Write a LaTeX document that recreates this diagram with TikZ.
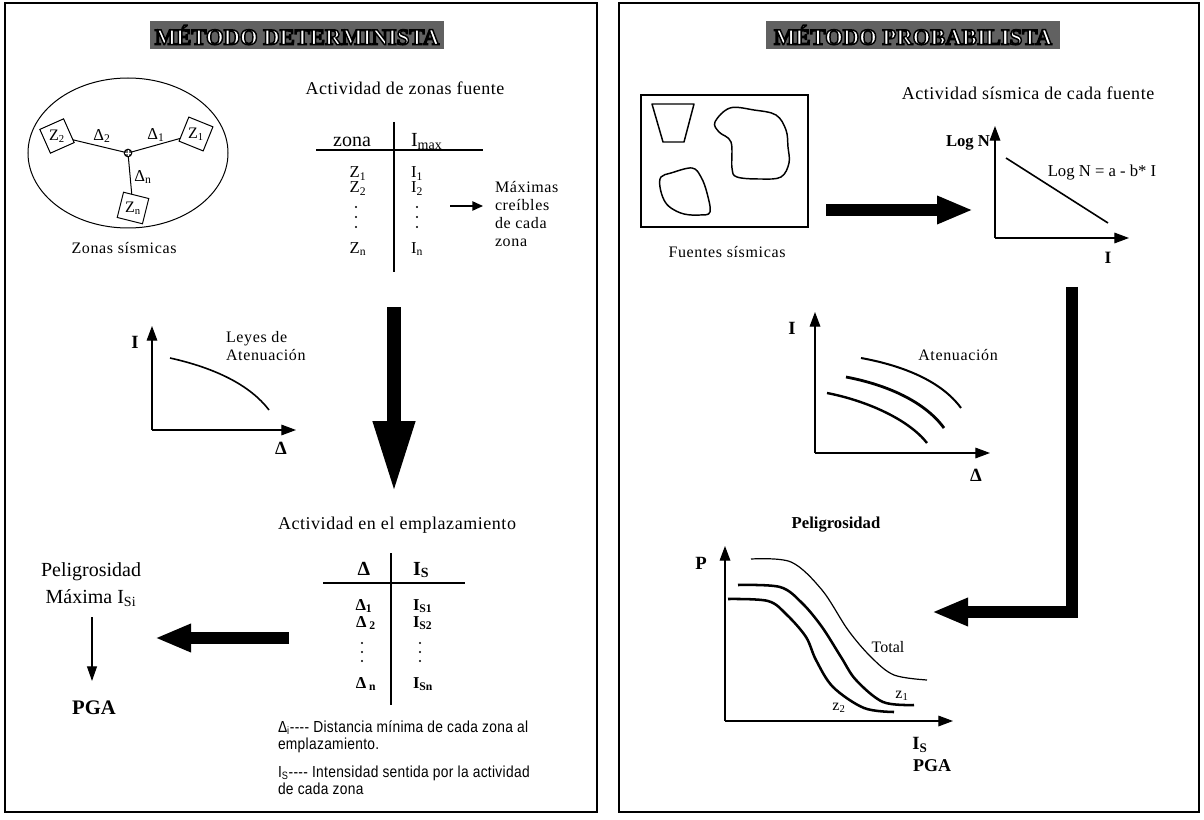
\documentclass[tikz,border=0pt]{standalone}
\usepackage{fontspec}
\setmainfont{Liberation Serif}
\newfontfamily\notefont[FakeStretch=0.86]{Liberation Sans}
\usetikzlibrary{arrows.meta}
\newcommand{\fsz}[2]{\fontsize{#1pt}{#2pt}\selectfont}
\newcommand{\outlinetxt}[1]{\special{pdf:literal direct 2 Tr 0 G 1.1 w}#1\special{pdf:literal direct 0 Tr}}
\begin{document}
\begin{tikzpicture}[x=0.75pt, y=-0.75pt,
  every node/.style={inner sep=0pt, outer sep=0pt},
  frame/.style={line width=1.9pt},
  banner/.style={fill=black!62, minimum width=#1, minimum height=21pt, text=white, font=\fsz{17}{19}\bfseries},
  hdr/.style={font=\fsz{13.5}{16}\addfontfeatures{LetterSpace=3}},
  lbl/.style={font=\fsz{12}{13.7}\addfontfeatures{LetterSpace=4}},
  th/.style={font=\fsz{15}{18}},
  tr/.style={font=\fsz{12.5}{15}},
  trb/.style={font=\fsz{12.5}{15}\bfseries},
  axl/.style={font=\fsz{14}{16}\bfseries},
  thinl/.style={line width=0.75pt},
  tline/.style={line width=1.1pt},
  axis/.style={line width=0.9pt, -{Triangle[length=11pt,width=8pt]}},
  bigarrow/.style={line width=9.5pt, line join=miter, -{Triangle[length=27pt,width=19.5pt]}},
  bigdown/.style={line width=10.5pt, -{Triangle[length=54pt,width=29pt]}},
  thinarrow/.style={line width=1.1pt, -{Triangle[length=8pt,width=7pt]}},
  zbox/.style={draw, line width=0.75pt, minimum width=19.5pt, minimum height=19.5pt},
  ztxt/.style={font=\fsz{12}{14}},
  note/.style={font=\notefont\fsz{12}{13}\addfontfeatures{LetterSpace=2}, align=left},
  tdot/.style={radius=0.8pt},
]
\useasboundingbox (0,0) rectangle (1204,820);

% ---------------- frames
\draw[frame] (5,3) rectangle (597,812);
\draw[frame] (619,3) rectangle (1199,812);

% ---------------- LEFT PANEL
\node[banner=220pt] (tL) at (297,35) {\outlinetxt{MÉTODO DETERMINISTA}};

% seismic zones
\draw[thinl] (128,153) ellipse [x radius=75pt, y radius=56.25pt];
\node[circle, draw, line width=0.9pt, fill=black!55, minimum size=5.5pt] (ctr) at (128,153) {};
\draw[white, line width=0.4pt] ([xshift=-2.2pt]ctr.center) -- ([xshift=2.2pt]ctr.center)
  ([yshift=-2.2pt]ctr.center) -- ([yshift=2.2pt]ctr.center);
\node[zbox, rotate=24] (z2) at (57,136) {};
\node[zbox, rotate=-22] (z1) at (196,134) {};
\node[zbox, rotate=-14] (zn) at (133,208) {};
\node[ztxt] (z2t) at (z2.center) {Z\textsubscript{2}};
\node[ztxt] (z1t) at (z1.center) {Z\textsubscript{1}};
\node[ztxt] (znt) at (zn.center) {Z\textsubscript{n}};
\draw[thinl] (ctr) -- (z2);
\draw[thinl] (ctr) -- (z1);
\draw[thinl] (ctr) -- (zn);
\node[tr] (d2) at (102,136) {Δ\textsubscript{2}};
\node[tr] (d1) at (156,135) {Δ\textsubscript{1}};
\node[tr] (dn) at (143,177) {Δ\textsubscript{n}};
\node[lbl] (zs) at (124,248) {Zonas sísmicas};

% source zone activity table
\node[hdr] (h1) at (405,88) {Actividad de zonas fuente};
\coordinate (v1t) at (394,122); \coordinate (v1b) at (394,272);
\coordinate (h1l) at (316,150); \coordinate (h1r) at (483,150);
\draw[tline] (v1t) -- (v1b);
\draw[tline] (h1l) -- (h1r);
\node[th, anchor=base] (tzona) at (352,147) {zona};
\node[th, anchor=base west] (timax) at (411,147) {I\textsubscript{max}};
\node[tr, anchor=base] (rz1) at (358,178) {Z\textsubscript{1}};
\node[tr, anchor=base] (rz2) at (358,193) {Z\textsubscript{2}};
\node[tr, anchor=base] (rzn) at (358,253) {Z\textsubscript{n}};
\node[tr, anchor=base west] (ri1) at (411,178) {I\textsubscript{1}};
\node[tr, anchor=base west] (ri2) at (411,193) {I\textsubscript{2}};
\node[tr, anchor=base west] (rin) at (411,253) {I\textsubscript{n}};
\foreach \yy in {207,217,227} {\fill (356,\yy) circle[tdot]; \fill (417,\yy) circle[tdot];}
\node[lbl, align=left, anchor=west] (maxi) at (495,214) {Máximas\\creíbles\\de cada\\zona};
\coordinate (a1s) at (450,206); \coordinate (a1e) at (483,206);
\draw[thinarrow] (a1s) -- (a1e);

% attenuation graph
\coordinate (g1o) at (152,430); \coordinate (g1y) at (152,326); \coordinate (g1x) at (296,430);
\draw[axis] (g1o) -- (g1y);
\draw[axis] (g1o) -- (g1x);
\node[axl] (g1I) at (135,342) {I};
\node[axl] (g1D) at (281,448) {Δ};
\draw[line width=1.2pt] (170,358) .. controls (215,368) and (250,385) .. (269,410);
\node[lbl, align=left, anchor=west] (leyes) at (226,346) {Leyes de\\Atenuación};

% big down arrow
\coordinate (bd1) at (394,307); \coordinate (bd2) at (394,493);
\draw[bigdown] (bd1) -- (bd2);

% site activity table
\node[hdr] (h2) at (397,525) {Actividad en el emplazamiento};
\coordinate (v2t) at (391,553); \coordinate (v2b) at (391,705);
\coordinate (h2l) at (323,583); \coordinate (h2r) at (465,583);
\draw[tline] (v2t) -- (v2b);
\draw[tline] (h2l) -- (h2r);
\node[th, font=\fsz{15}{18}\bfseries, anchor=base] (tdel) at (364,575) {Δ};
\node[th, font=\fsz{15}{18}\bfseries, anchor=base west] (tis) at (413,575) {I\textsubscript{S}};
\node[trb, anchor=base] (rd1) at (364,610) {Δ\textsubscript{1}};
\node[trb, anchor=base] (rd2) at (366,627) {Δ\,\textsubscript{2}};
\node[trb, anchor=base] (rdn) at (366,688) {Δ\,\textsubscript{n}};
\node[trb, anchor=base west] (ris1) at (413,610) {I\textsubscript{S1}};
\node[trb, anchor=base west] (ris2) at (413,627) {I\textsubscript{S2}};
\node[trb, anchor=base west] (risn) at (413,688) {I\textsubscript{Sn}};
\foreach \yy in {643,652,661} {\fill (362,\yy) circle[tdot]; \fill (420,\yy) circle[tdot];}
\node[note, anchor=west] (n1) at (278,737) {Δ\textsubscript{i}---- Distancia mínima de cada zona al\\emplazamiento.};
\node[note, anchor=west] (n2) at (278,780) {I\textsubscript{S}---- Intensidad sentida por la actividad\\de cada zona};

% hazard result
\node[th] (pel) at (91,572) {Peligrosidad};
\node[th] (maxis) at (91,598) {Máxima I\textsubscript{Si}};
\node[font=\fsz{15.5}{18}\bfseries] (pga) at (94,708) {PGA};
\coordinate (ta1) at (92,617); \coordinate (ta2) at (92,681);
\draw[line width=0.8pt, -{Triangle[length=11pt,width=7.5pt]}] (ta1) -- (ta2);
\coordinate (bl1) at (289,638); \coordinate (bl2) at (155,638);
\draw[bigarrow] (bl1) -- (bl2);

% ---------------- RIGHT PANEL
\node[banner=220pt] (tR) at (913,35) {\outlinetxt{MÉTODO PROBABILISTA}};

% seismic sources
\draw[line width=0.85pt] (641,95) rectangle (808,227);
\draw[line width=1.1pt, line join=round] (652,104) -- (694,104) -- (684,142) -- (663,142) -- cycle;
\draw[line width=1.1pt] plot[smooth cycle, tension=0.6] coordinates {(730,108) (754,110) (776,115) (786,130) (788,147) (789,163) (781,177) (761,179) (737,177) (732,168) (731,142) (719,132) (715,122)};
\draw[line width=1.1pt] plot[smooth cycle, tension=0.6] coordinates {(661,177) (671,173) (692,168) (701,177) (707,193) (710,212) (700,215) (684,214) (671,208) (664,200) (660,187)};
\node[lbl] (fs) at (727,252) {Fuentes sísmicas};
\coordinate (ra1) at (826,210); \coordinate (ra2) at (973,210);
\draw[bigarrow] (ra1) -- (ra2);

% Gutenberg-Richter
\node[hdr] (h3) at (1028,93) {Actividad sísmica de cada fuente};
\coordinate (g2o) at (995,238); \coordinate (g2y) at (995,126); \coordinate (g2x) at (1129,238);
\draw[axis] (g2o) -- (g2y);
\draw[axis] (g2o) -- (g2x);
\node[font=\fsz{12.5}{15}\bfseries, anchor=east] (logn) at (990,143) {Log N};
\draw[line width=1.2pt] (1006,158) -- (1108,223);
\node[font=\fsz{12.5}{15}] (eq) at (1102,173) {Log N = a - b* I};
\node[font=\fsz{13}{15}\bfseries] (g2I) at (1108,258) {I};

% L connector
\coordinate (Ls) at (1072,287); \coordinate (Lt) at (932,612);
\draw[bigarrow] (Ls) |- (Lt);

% attenuation curves
\coordinate (g3o) at (815,453); \coordinate (g3y) at (815,312); \coordinate (g3x) at (990,453);
\draw[axis] (g3o) -- (g3y);
\draw[axis] (g3o) -- (g3x);
\node[axl] (g3I) at (792,328) {I};
\node[axl] (g3D) at (976,475) {Δ};
\node[lbl] (aten) at (958,355) {Atenuación};
\draw[line width=1.5pt] (861,358) .. controls (905,366) and (942,382) .. (961,408);
\draw[line width=2.1pt] (846,377) .. controls (888,385) and (925,402) .. (944,428);
\draw[line width=1.8pt] (827,393) .. controls (868,401) and (909,420) .. (927,443);

% hazard curves
\node[font=\fsz{12.5}{15}\bfseries] (pelR) at (836,525) {Peligrosidad};
\coordinate (g4o) at (725,721); \coordinate (g4y) at (725,546); \coordinate (g4x) at (953,721);
\draw[axis] (g4o) -- (g4y);
\draw[axis] (g4o) -- (g4x);
\node[axl] (g4P) at (701,563) {P};
\node[axl] (g4I) at (920,745) {I\textsubscript{S}};
\node[font=\fsz{13.5}{16}\bfseries] (pgaR) at (932,766) {PGA};
\draw[line width=0.9pt] plot[smooth, tension=0.55] coordinates {(751,559) (791,562) (822,590) (848,630) (871,657) (894,675) (927,680)};
\draw[line width=1.9pt] plot[smooth, tension=0.55] coordinates {(738,585) (780,587) (802,603) (822,627) (841,657) (856,680) (883,702) (914,705)};
\draw[line width=1.9pt] plot[smooth, tension=0.55] coordinates {(728,599) (768,601) (787,615) (806,637) (816,660) (833,687) (864,708) (894,712)};
\node[font=\fsz{12}{14}] (tot) at (888,647) {Total};
\node[font=\fsz{12}{14}] (lz1) at (902,696) {z\textsubscript{1}};
\node[font=\fsz{12}{14}] (lz2) at (839,708) {z\textsubscript{2}};
\end{tikzpicture}
\end{document}
